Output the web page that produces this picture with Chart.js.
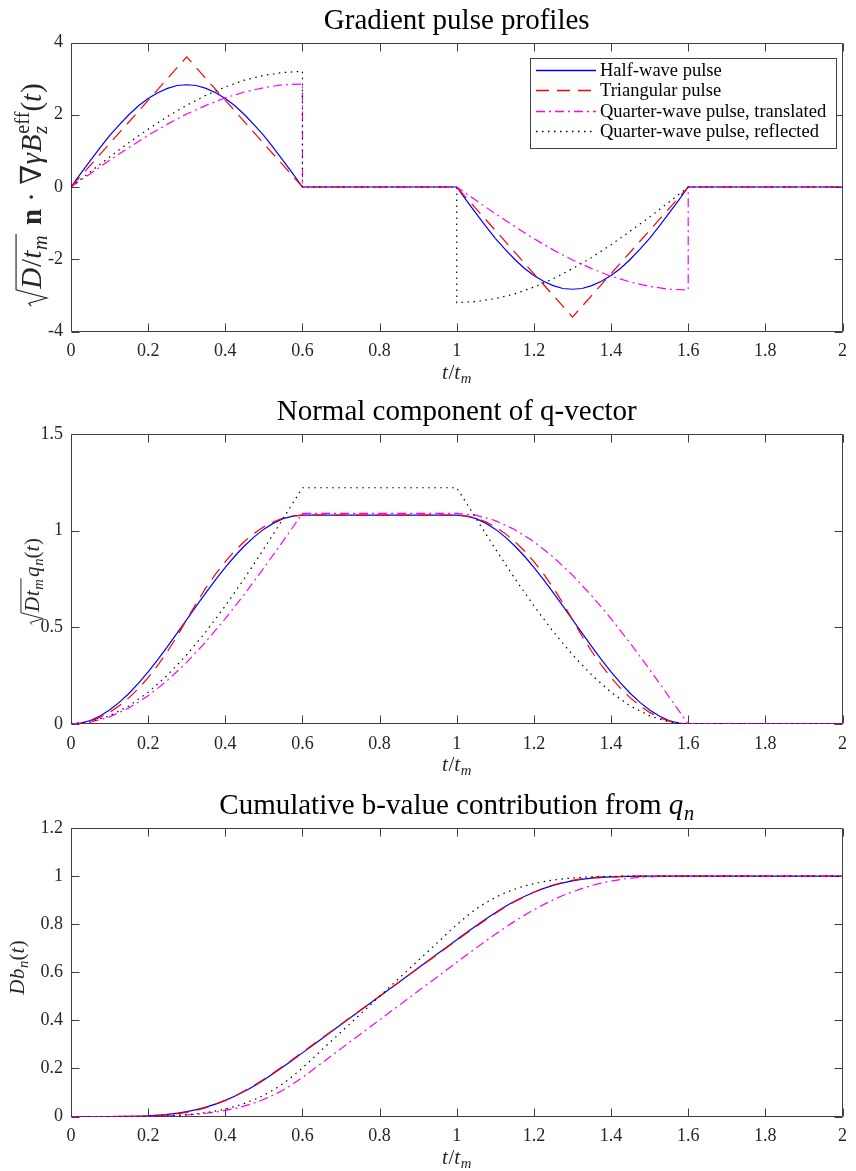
<!DOCTYPE html>
<html>
<head>
<meta charset="utf-8">
<script src="https://cdn.jsdelivr.net/npm/chart.js@4.4.1/dist/chart.umd.min.js"></script>
<style>
  html, body { margin: 0; padding: 0; background: #ffffff; }
  #wrap { position: relative; width: 856px; height: 1171px; overflow: hidden; }
  canvas { position: absolute; left: 0; }
</style>
</head>
<body>
<div id="wrap">
  <canvas id="c1" width="856" height="393" style="top:0px"></canvas>
  <canvas id="c2" width="856" height="393" style="top:392px"></canvas>
  <canvas id="c3" width="856" height="385" style="top:786px"></canvas>
</div>
<script>
// ---- series names ----
const seriesNames = ['Half-wave pulse', 'Triangular pulse', 'Quarter-wave pulse, translated', 'Quarter-wave pulse, reflected'];

// ---- time grids (t / t_m) ----
const tFine = [0,0.025,0.05,0.075,0.1,0.125,0.15,0.175,0.2,0.225,0.25,0.275,0.3,0.325,0.35,0.375,0.4,0.425,0.45,0.475,0.5,0.525,0.55,0.575,0.6,
  1,1.025,1.05,1.075,1.1,1.125,1.15,1.175,1.2,1.225,1.25,1.275,1.3,1.325,1.35,1.375,1.4,1.425,1.45,1.475,1.5,1.525,1.55,1.575,1.6,2];
const tCoarse = [0,0.05,0.1,0.15,0.2,0.25,0.3,0.35,0.4,0.45,0.5,0.55,0.6,
  1,1.05,1.1,1.15,1.2,1.25,1.3,1.35,1.4,1.45,1.5,1.55,1.6,2];
const tTri = [0,0.3,0.6,1,1.3,1.6,2];
const tQuarterTrans = [0,0.05,0.1,0.15,0.2,0.25,0.3,0.35,0.4,0.45,0.5,0.55,0.6,0.6,
  1,1.05,1.1,1.15,1.2,1.25,1.3,1.35,1.4,1.45,1.5,1.55,1.6,1.6,2];
const tQuarterRefl = [0,0.05,0.1,0.15,0.2,0.25,0.3,0.35,0.4,0.45,0.5,0.55,0.6,0.6,1,
  1,1.05,1.1,1.15,1.2,1.25,1.3,1.35,1.4,1.45,1.5,1.55,1.6,2];
const tB = [0,0.05,0.1,0.15,0.2,0.25,0.3,0.35,0.4,0.45,0.5,0.55,0.6,0.65,0.7,0.75,0.8,0.85,0.9,0.95,1,
  1.05,1.1,1.15,1.2,1.25,1.3,1.35,1.4,1.45,1.5,1.55,1.6,2];

// ---- gradient pulse profiles ----
const gHalf = [0,0.37,0.73,1.08,1.42,1.72,2.00,2.25,2.45,2.61,2.73,2.81,2.83,2.81,2.73,2.61,2.45,2.25,2.00,1.72,1.42,1.08,0.73,0.37,0,
  0,-0.37,-0.73,-1.08,-1.42,-1.72,-2.00,-2.25,-2.45,-2.61,-2.73,-2.81,-2.83,-2.81,-2.73,-2.61,-2.45,-2.25,-2.00,-1.72,-1.42,-1.08,-0.73,-0.37,0,0];
const gTri = [0,3.6,0,0,-3.6,0,0];
const gQuarterTrans = [0,0.37,0.74,1.09,1.43,1.74,2.02,2.26,2.47,2.63,2.75,2.83,2.85,0,
  0,-0.37,-0.74,-1.09,-1.43,-1.74,-2.02,-2.26,-2.47,-2.63,-2.75,-2.83,-2.85,0,0];
const gQuarterRefl = [0,0.42,0.83,1.23,1.60,1.95,2.26,2.54,2.77,2.96,3.09,3.17,3.20,0,0,
  -3.20,-3.17,-3.09,-2.96,-2.77,-2.54,-2.26,-1.95,-1.60,-1.22,-0.83,-0.42,0,0];

// ---- normal component of q-vector ----
const qHalf = [0,0.005,0.018,0.041,0.072,0.112,0.158,0.211,0.270,0.333,0.400,0.470,0.540,0.611,0.680,0.747,0.810,0.869,0.922,0.968,1.008,1.039,1.062,1.075,1.080,
  1.080,1.075,1.062,1.039,1.008,0.968,0.922,0.869,0.810,0.747,0.680,0.611,0.540,0.470,0.400,0.333,0.270,0.211,0.158,0.112,0.072,0.041,0.018,0.005,0,0];
const qTri = [0,0.004,0.015,0.034,0.060,0.094,0.135,0.184,0.240,0.304,0.375,0.454,0.540,0.626,0.705,0.776,0.840,0.896,0.945,0.986,1.020,1.046,1.065,1.076,1.080,
  1.080,1.076,1.065,1.046,1.020,0.986,0.945,0.896,0.840,0.776,0.705,0.626,0.540,0.454,0.375,0.304,0.240,0.184,0.135,0.094,0.060,0.034,0.015,0.004,0,0];
const qQuarterTrans = [0,0.009,0.037,0.083,0.146,0.225,0.319,0.426,0.545,0.672,0.807,0.947,1.089,
  1.089,1.080,1.052,1.006,0.943,0.864,0.770,0.663,0.545,0.417,0.282,0.142,0,0];
const qQuarterRefl = [0,0.011,0.042,0.093,0.164,0.253,0.358,0.478,0.611,0.754,0.906,1.063,1.222,
  1.222,1.063,0.906,0.754,0.611,0.478,0.358,0.253,0.164,0.093,0.042,0.011,0,0];

// ---- cumulative b-value contribution ----
const bHalf = [0,0,0.0001,0.0008,0.0031,0.0088,0.0200,0.0389,0.0670,0.1050,0.1523,0.2066,0.2647,0.3235,0.3823,0.4412,0.5000,0.5588,0.6176,0.6765,0.7353,
  0.7934,0.8477,0.8950,0.9330,0.9611,0.9800,0.9912,0.9969,0.9992,0.9999,1,1,1];
const bTri = [0,0,0.0001,0.0005,0.0023,0.0070,0.0174,0.0370,0.0670,0.1070,0.1554,0.2098,0.2674,0.3256,0.3837,0.4419,0.5000,0.5581,0.6163,0.6744,0.7326,
  0.7902,0.8446,0.8930,0.9330,0.9630,0.9826,0.9930,0.9977,0.9995,0.9999,1,1,1];
const bQuarterTrans = [0,0,0,0.0002,0.0009,0.0026,0.0063,0.0134,0.0252,0.0439,0.0716,0.1104,0.1627,0.2225,0.2824,0.3422,0.4020,0.4618,0.5216,0.5814,0.6412,
  0.7006,0.7581,0.8116,0.8597,0.9010,0.9348,0.9608,0.9793,0.9911,0.9973,0.9997,1,1];
const bQuarterRefl = [0,0,0,0.0003,0.0011,0.0033,0.0079,0.0166,0.0314,0.0547,0.0890,0.1373,0.2024,0.2768,0.3512,0.4256,0.5000,0.5744,0.6488,0.7232,0.7976,
  0.8627,0.9110,0.9454,0.9686,0.9834,0.9921,0.9968,0.9989,0.9997,1,1,1,1];

// ---- axis ranges and ticks ----
const xRange = [0, 2], xStep = 0.2;
const yRangeG = [-4, 4], yStepG = 2;
const yRangeQ = [0, 1.5], yStepQ = 0.5;
const yRangeB = [0, 1.2], yStepB = 0.2;

// ---- texts (runs: [text, style]; i italic, b bold, _ subscript, ^ superscript, k stacked) ----
const title1 = [['Gradient pulse profiles', '']];
const title2 = [['Normal component of q-vector', '']];
const title3 = [['Cumulative b-value contribution from ', ''], ['q', 'i'], ['n', 'i_']];
const xLabel = [['t', 'i'], ['/', ''], ['t', 'i'], ['m', 'i_']];
const yLabel1 = [['', 'rad('], ['D', 'i'], ['/', ''], ['t', 'i'], ['m', 'i_'], ['', 'rad)'], [' ', ''], ['n', 'b'], [' \u00B7 ', ''], ['\u2207', ''], ['\u03B3', 'i'], ['B', 'i'], ['z', 'i_'], ['eff', '^k'], ['(', ''], ['t', 'i'], [')', '']];
const yLabel2 = [['', 'rad('], ['D', 'i'], ['t', 'i'], ['m', 'i_'], ['', 'rad)'], ['q', 'i'], ['n', 'i_'], ['(', ''], ['t', 'i'], [')', '']];
const yLabel3 = [['D', 'i'], ['b', 'i'], ['n', 'i_'], ['(', ''], ['t', 'i'], [')', '']];

// ---- styling ----
const FAM = '"Liberation Serif", "DejaVu Serif", serif';
const AXIS_COLOR = '#404040';
const TEXT_COLOR = '#262626';
const lineStyles = [
  { color: '#0000ff', dash: [] },
  { color: '#ff0000', dash: [13, 8] },
  { color: '#ff00ff', dash: [9, 4, 2, 4] },
  { color: '#000000', dash: [1.5, 4.5] }
];

function fmtTick(v) { return String(Math.round(v * 10) / 10); }

function fontFor(st, px) {
  return (st.includes('i') ? 'italic ' : '') + (st.includes('b') ? 'bold ' : '') + px + 'px ' + FAM;
}
function radical(ctx, x1, x2, y0, s) {
  ctx.beginPath();
  ctx.moveTo(x1 + s * 0.02, y0 - s * 0.34);
  ctx.lineTo(x1 + s * 0.12, y0 - s * 0.42);
  ctx.lineTo(x1 + s * 0.30, y0 + s * 0.20);
  ctx.lineTo(x1 + s * 0.58, y0 - s * 0.86);
  ctx.lineTo(x2, y0 - s * 0.86);
  ctx.lineWidth = Math.max(1, s * 0.04);
  ctx.stroke();
}
function mathPass(ctx, runs, s, x0, y0, draw) {
  let x = x0, radX = 0, prevX = x0, prevW = 0;
  for (const [txt, st] of runs) {
    if (st === 'rad(') { radX = x; x += s * 0.62; continue; }
    if (st === 'rad)') { if (draw) radical(ctx, radX, x + s * 0.04, y0, s); x += s * 0.1; continue; }
    const small = st.includes('_') || st.includes('^');
    const px = small ? s * 0.7 : s;
    ctx.font = fontFor(st, px);
    const w = ctx.measureText(txt).width;
    const xs = st.includes('k') ? prevX : x;
    const dy = st.includes('_') ? s * 0.2 : (st.includes('^') ? -s * 0.42 : 0);
    if (draw) ctx.fillText(txt, xs, y0 + dy);
    if (st.includes('k')) {
      x = Math.max(prevX + prevW, xs + w);
    } else {
      prevX = xs; prevW = w;
      x = xs + w + (st.includes('i') && !small ? s * 0.03 : 0);
    }
  }
  return x - x0;
}
function drawMath(ctx, runs, s, cx, cy, rotate, color) {
  ctx.save();
  ctx.translate(cx, cy);
  if (rotate) ctx.rotate(-Math.PI / 2);
  ctx.fillStyle = color; ctx.strokeStyle = color;
  ctx.textAlign = 'left'; ctx.textBaseline = 'alphabetic';
  const w = mathPass(ctx, runs, s, 0, 0, false);
  mathPass(ctx, runs, s, -w / 2, 0, true);
  ctx.restore();
}

// Box, inward tick marks, titles, labels and legend in the MATLAB look
function axesDecor(spec) {
  return {
    id: 'axesDecor' + spec.id,
    beforeDatasetsDraw(chart) {
      const ctx = chart.ctx, a = chart.chartArea;
      const xs = chart.scales.x, ys = chart.scales.y;
      const L = Math.round(a.left) + 0.5, R = Math.round(a.right) - 0.5;
      const T = Math.round(a.top) + 0.5, B = Math.round(a.bottom) - 0.5;
      const tl = 8;
      ctx.save();
      ctx.strokeStyle = AXIS_COLOR; ctx.lineWidth = 1; ctx.setLineDash([]);
      ctx.beginPath();
      ctx.rect(L, T, R - L, B - T);
      xs.ticks.forEach(tk => {
        const px = Math.round(xs.getPixelForValue(tk.value)) + 0.5;
        ctx.moveTo(px, B); ctx.lineTo(px, B - tl);
        ctx.moveTo(px, T); ctx.lineTo(px, T + tl);
      });
      ys.ticks.forEach(tk => {
        const py = Math.round(ys.getPixelForValue(tk.value)) + 0.5;
        ctx.moveTo(L, py); ctx.lineTo(L + tl, py);
        ctx.moveTo(R, py); ctx.lineTo(R - tl, py);
      });
      ctx.stroke();
      ctx.restore();
    },
    afterDraw(chart) {
      const ctx = chart.ctx, a = chart.chartArea;
      const cx = (a.left + a.right) / 2;
      drawMath(ctx, spec.title, 29, cx, a.top - 14, false, '#000000');
      drawMath(ctx, xLabel, 21, cx, a.bottom + 47, false, TEXT_COLOR);
      drawMath(ctx, spec.yLabel, spec.yLabelSize, spec.yLabelX, spec.yLabelY, true, TEXT_COLOR);
      if (spec.legend) {
        const lg = spec.legend;
        ctx.save();
        ctx.fillStyle = '#ffffff';
        ctx.fillRect(lg.x, lg.y, lg.w, lg.h);
        ctx.strokeStyle = AXIS_COLOR; ctx.lineWidth = 1; ctx.setLineDash([]);
        ctx.strokeRect(lg.x + 0.5, lg.y + 0.5, lg.w, lg.h);
        seriesNames.forEach((name, i) => {
          const ry = lg.rows[i];
          ctx.save();
          ctx.strokeStyle = lineStyles[i].color;
          ctx.lineWidth = 1.3;
          ctx.lineCap = 'butt';
          ctx.setLineDash(lineStyles[i].dash);
          ctx.beginPath();
          ctx.moveTo(lg.x + 6, ry); ctx.lineTo(lg.x + 66, ry);
          ctx.stroke();
          ctx.restore();
          ctx.fillStyle = '#000000';
          ctx.font = '18.5px ' + FAM;
          ctx.textAlign = 'left'; ctx.textBaseline = 'middle';
          ctx.fillText(name, lg.x + 70, ry + 1);
        });
        ctx.restore();
      }
    }
  };
}

function buildChart(spec) {
  const datasets = spec.series.map((s, i) => ({
    label: seriesNames[i],
    data: s.t.map((x, k) => ({ x: x, y: s.v[k] })),
    borderColor: lineStyles[i].color,
    borderDash: lineStyles[i].dash,
    borderWidth: 1.2,
    borderCapStyle: 'butt',
    pointRadius: 0,
    fill: false,
    tension: 0,
    cubicInterpolationMode: spec.smooth ? 'monotone' : 'default',
    order: 3 - i
  }));
  const tickFont = { family: FAM, size: 18 };
  return new Chart(document.getElementById(spec.id), {
    type: 'line',
    data: { datasets: datasets },
    options: {
      responsive: false,
      animation: false,
      devicePixelRatio: 1,
      layout: { padding: { top: spec.padTop, right: 5, bottom: spec.padBottom, left: 0 } },
      plugins: { legend: { display: false }, tooltip: { enabled: false } },
      scales: {
        x: {
          type: 'linear', min: xRange[0], max: xRange[1],
          ticks: { stepSize: xStep, autoSkip: false, maxRotation: 0, padding: 9, color: TEXT_COLOR, font: tickFont, callback: fmtTick },
          grid: { display: false, drawTicks: false },
          border: { display: false },
          afterFit: s => { s.height = 40; }
        },
        y: {
          type: 'linear', min: spec.yRange[0], max: spec.yRange[1],
          ticks: { stepSize: spec.yStep, autoSkip: false, padding: 8, color: TEXT_COLOR, font: tickFont, callback: fmtTick },
          grid: { display: false, drawTicks: false },
          border: { display: false },
          afterFit: s => { s.width = 71; }
        }
      }
    },
    plugins: [axesDecor(spec)]
  });
}

buildChart({
  id: 'c1', padTop: 42.5, padBottom: 21.5,
  yRange: yRangeG, yStep: yStepG, smooth: false,
  title: title1, yLabel: yLabel1, yLabelSize: 29, yLabelX: 41, yLabelY: 195,
  legend: { x: 530, y: 58, w: 306, h: 90, rows: [70.5, 90.5, 111.5, 131.5] },
  series: [
    { t: tFine, v: gHalf },
    { t: tTri, v: gTri },
    { t: tQuarterTrans, v: gQuarterTrans },
    { t: tQuarterRefl, v: gQuarterRefl }
  ]
});

buildChart({
  id: 'c2', padTop: 42, padBottom: 21,
  yRange: yRangeQ, yStep: yStepQ, smooth: false,
  title: title2, yLabel: yLabel2, yLabelSize: 21, yLabelX: 39, yLabelY: 189.5,
  series: [
    { t: tFine, v: qHalf },
    { t: tFine, v: qTri },
    { t: tCoarse, v: qQuarterTrans },
    { t: tCoarse, v: qQuarterRefl }
  ]
});

buildChart({
  id: 'c3', padTop: 42, padBottom: 14.5,
  yRange: yRangeB, yStep: yStepB, smooth: true,
  title: title3, yLabel: yLabel3, yLabelSize: 21, yLabelX: 24, yLabelY: 181.5,
  series: [
    { t: tB, v: bHalf },
    { t: tB, v: bTri },
    { t: tB, v: bQuarterTrans },
    { t: tB, v: bQuarterRefl }
  ]
});
</script>
</body>
</html>
